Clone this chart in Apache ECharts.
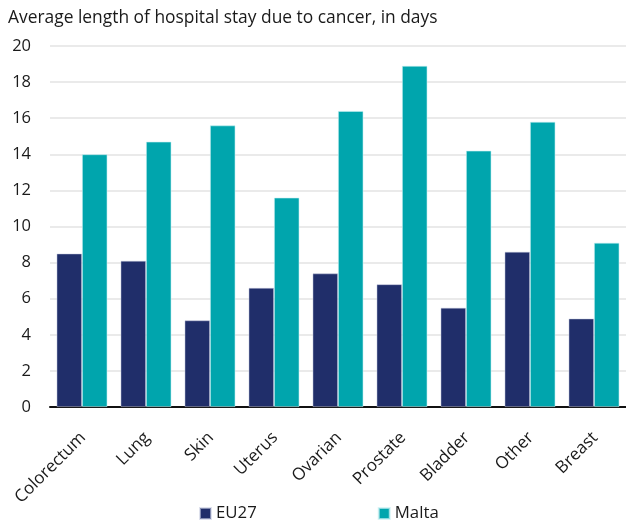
<!DOCTYPE html>
<html>
<head>
<meta charset="utf-8">
<script src="https://cdn.jsdelivr.net/npm/echarts@6/dist/echarts.min.js"></script>
<style>
  html, body { margin: 0; padding: 0; background: #fff; }
  #chart { width: 626px; height: 525px; }
</style>
</head>
<body>
<div id="chart"></div>
<script>
// Average length of hospital stay due to cancer (days)
const categories = ['Colorectum', 'Lung', 'Skin', 'Uterus', 'Ovarian', 'Prostate', 'Bladder', 'Other', 'Breast'];
const eu27 = [8.5, 8.1, 4.8, 6.6, 7.4, 6.8, 5.5, 8.6, 4.9];
const malta = [14.0, 14.7, 15.6, 11.6, 16.4, 18.9, 14.2, 15.8, 9.1];
const yTicks = { min: 0, max: 20, interval: 2 };

const FONT = '"Open Sans", "Noto Sans", sans-serif';
const TEXT = '#1a1a1a';

const chart = echarts.init(document.getElementById('chart'), null, { renderer: 'canvas' });
chart.setOption({
  animation: false,
  backgroundColor: '#ffffff',
  textStyle: { fontFamily: FONT },
  title: {
    text: 'Average length of hospital stay due to cancer, in days',
    left: 8, top: 10, padding: 0,
    textStyle: { fontFamily: FONT, fontSize: 17.4, fontWeight: 'normal', color: TEXT }
  },
  legend: {
    left: 199, top: 505, padding: 0,
    itemWidth: 11, itemHeight: 11, itemGap: 121,
    icon: 'rect',
    textStyle: { fontFamily: FONT, fontSize: 16.8, color: TEXT },
    data: ['EU27', 'Malta']
  },
  grid: { left: 50, width: 578, top: 46, bottom: 118 },
  xAxis: {
    type: 'category', data: categories,
    axisLine: { show: true, lineStyle: { color: '#111', width: 2 } },
    axisTick: { show: false },
    axisLabel: {
      rotate: 45, margin: 17, interval: 0,
      align: 'right', verticalAlign: 'top',
      padding: [0, 7, 0, 0],
      fontFamily: FONT, fontSize: 17, color: TEXT
    }
  },
  yAxis: {
    type: 'value', min: yTicks.min, max: yTicks.max, interval: yTicks.interval,
    axisLine: { show: false }, axisTick: { show: false },
    axisLabel: { margin: 19, fontFamily: FONT, fontSize: 16.5, color: TEXT },
    splitLine: { lineStyle: { color: '#e3e3e3', width: 1.5 } }
  },
  series: [
    {
      name: 'EU27', type: 'bar', data: eu27,
      barGap: '0%', barCategoryGap: '20.6%',
      itemStyle: { color: '#202e6a', borderColor: 'rgba(200,205,225,0.6)', borderWidth: 0.8 },
      z: 3
    },
    {
      name: 'Malta', type: 'bar', data: malta,
      barGap: '0%', barCategoryGap: '20.6%',
      itemStyle: { color: '#00a5ad', borderColor: 'rgba(200,240,242,0.7)', borderWidth: 0.8 },
      z: 3
    }
  ]
});
</script>
</body>
</html>
